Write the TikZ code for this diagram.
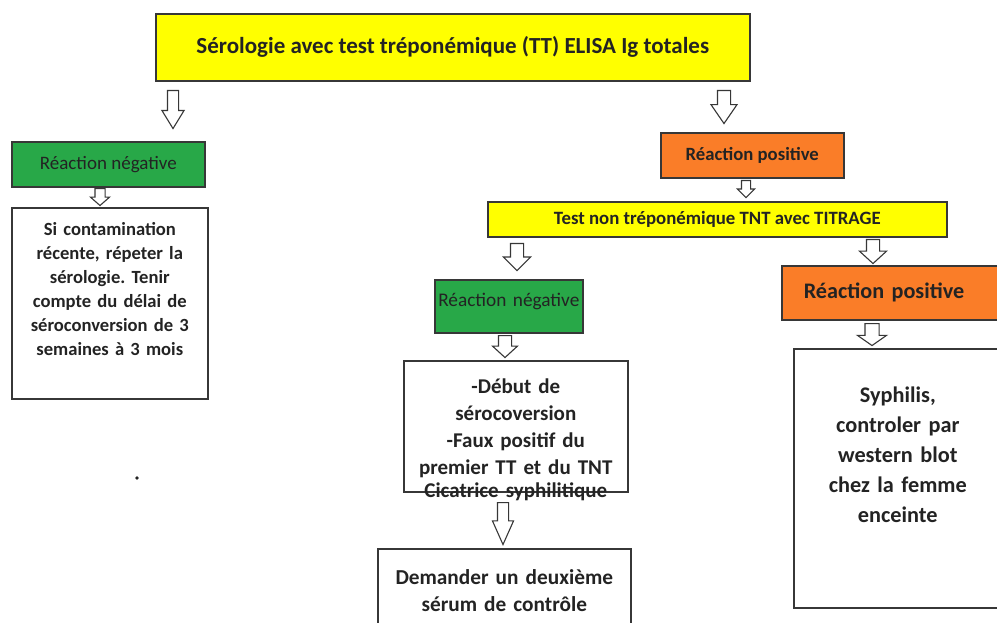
\documentclass[tikz,border=0pt]{standalone}
\usepackage{fontspec}
\setmainfont{Carlito}
\frenchspacing
\usetikzlibrary{shapes.arrows}
\definecolor{boxyellow}{RGB}{255,255,0}
\definecolor{boxgreen}{RGB}{40,168,72}
\definecolor{boxorange}{RGB}{250,125,40}
\definecolor{edgegray}{RGB}{55,55,55}
\definecolor{txtgray}{RGB}{35,35,35}
\begin{document}
\begin{tikzpicture}[x=1pt,y=-1pt,
    box/.style={draw=edgegray, line width=1.6pt, anchor=north west, inner sep=0pt, text=txtgray, align=center},
    hollow/.style n args={4}{single arrow, draw=edgegray, fill=white, line width=1.1pt, rotate=-90, anchor=tail,
        inner xsep=0pt, inner ysep=#2, minimum width=0pt, minimum height=#1,
        single arrow head extend=#3, single arrow tip angle=#4}]
    \useasboundingbox (0,0) rectangle (997,623);

    % First test
    \node[box, fill=boxyellow, minimum width=594, minimum height=67, font=\fontsize{23}{26}\selectfont\bfseries] (sero) at (155,13) {Sérologie avec test tréponémique (TT) ELISA Ig totales};

    % Left branch: TT negative
    \node[box, fill=boxgreen, minimum width=193, minimum height=45, font=\fontsize{19}{22}\selectfont] (neg1) at (11,141) {Réaction négative};
    \node[box, minimum width=196, text width=190, text height=28, text depth=163, font=\fontsize{18.6}{24}\selectfont\bfseries] (recent) at (11,207) {Si contamination\\récente, répeter la\\sérologie. Tenir\\compte du délai de\\séroconversion de 3\\semaines à 3 mois};
    \fill[txtgray] (137,478) circle (1.8pt);

    % Right branch: TT positive
    \node[box, fill=boxorange, minimum width=183, minimum height=45, font=\fontsize{18.7}{22}\selectfont\bfseries] (pos1) at (660,132) {Réaction positive};
    \node[box, fill=boxyellow, minimum width=459, minimum height=35, font=\fontsize{18.8}{22}\selectfont\bfseries] (tnt) at (487,201) {Test non tréponémique TNT avec TITRAGE};

    % TNT negative
    \node[box, fill=boxgreen, minimum width=148, text width=148, text height=27, text depth=26, font=\fontsize{19.3}{22}\selectfont] (neg2) at (434,279) {Réaction négative};
    \node[box, fill=white, minimum width=224, text width=220, text height=33, text depth=98, font=\fontsize{21}{27}\selectfont\bfseries] (cause) at (403,360) {-Début de\\sérocoversion\\-Faux positif du\\premier TT et du TNT\\[-4pt]Cicatrice syphilitique};
    \node[box, fill=white, minimum width=253, text width=243, text height=36, text depth=80, font=\fontsize{21.3}{27}\selectfont\bfseries] (serum) at (377,548) {Demander un deuxième\\sérum de contrôle};

    % TNT positive
    \node[box, fill=boxorange, minimum width=222, minimum height=54, text width=178, inner xsep=22pt, align=left, font=\fontsize{22.2}{26}\selectfont\bfseries] (pos2) at (781,265) {Réaction positive};
    \node[box, fill=white, minimum width=208, text width=198, text height=54, text depth=205, font=\fontsize{22.3}{30}\selectfont\bfseries] (syph) at (793,348) {Syphilis,\\controler par\\western blot\\chez la femme\\enceinte};

    % Hollow arrows
    \node[hollow={38}{5pt}{5.5pt}{63}] (a1) at (173,90) {};
    \node[hollow={17}{4.5pt}{4.5pt}{97}] (a2) at (100,188) {};
    \node[hollow={33}{6pt}{6.5pt}{69}] (a3) at (724,90) {};
    \node[hollow={17}{4pt}{4pt}{90}] (a4) at (746,180) {};
    \node[hollow={27}{6pt}{7pt}{90}] (a5) at (517,243) {};
    \node[hollow={24}{6pt}{7pt}{95}] (a6) at (873,239) {};
    \node[hollow={22}{6pt}{6pt}{95}] (a7) at (505,335) {};
    \node[hollow={22}{6.5pt}{7.5pt}{110}] (a8) at (872,323) {};
    \node[hollow={42}{5pt}{5pt}{48}] (a9) at (503,502) {};
\end{tikzpicture}
\end{document}
